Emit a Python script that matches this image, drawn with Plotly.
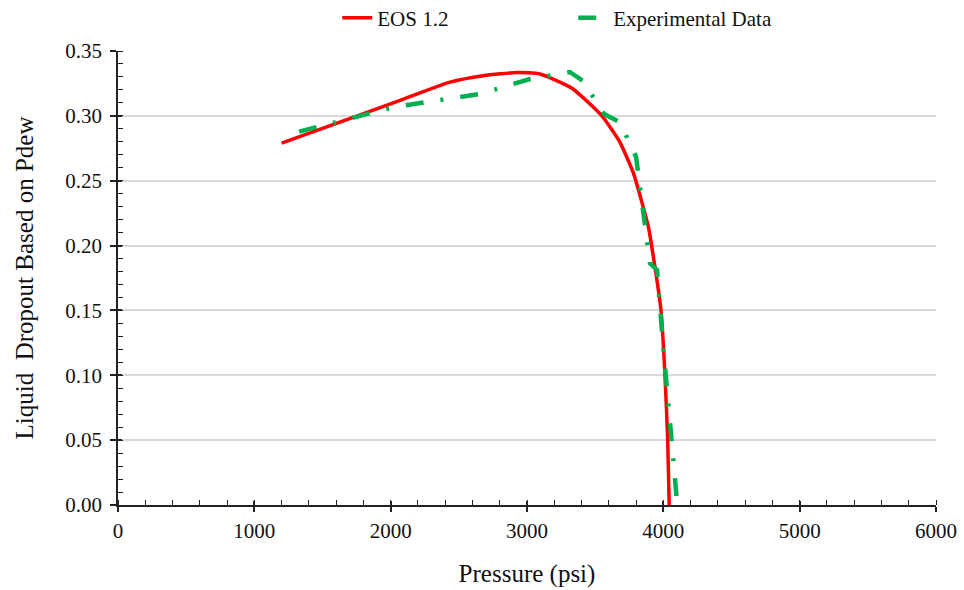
import plotly.graph_objects as go

# EOS 1.2 model curve
eos_pressure = [1200, 2070, 2435, 2680, 2930, 3095, 3330, 3545, 3680, 3780, 3890, 3914, 3983, 4012, 4032, 4043]
eos_dropout = [0.279, 0.312, 0.326, 0.331, 0.3335, 0.3323, 0.3213, 0.3005, 0.280, 0.256, 0.2146, 0.200, 0.150, 0.100, 0.050, 0.0]

# Experimental data
exp_pressure = [1328, 2032, 2655, 3022, 3315, 3411, 3565, 3682, 3800, 3902, 3954, 4001, 4078, 4102]
exp_dropout = [0.2878, 0.3069, 0.3169, 0.3284, 0.3338, 0.3269, 0.3014, 0.2951, 0.2683, 0.1862, 0.1812, 0.1195, 0.0293, 0.0]

x_range = [0, 6000]
y_range = [0, 0.35]

FONT = "Liberation Serif"

fig = go.Figure()
fig.add_trace(go.Scatter(
    x=eos_pressure, y=eos_dropout, name="EOS 1.2", mode="lines",
    line=dict(color="#FF0000", width=3.5, shape="spline", smoothing=0.5),
))
fig.add_trace(go.Scatter(
    x=exp_pressure, y=exp_dropout, name="Experimental Data", mode="lines",
    line=dict(color="#00B050", width=4.5, dash="18px,17px,3px,17px"),
))
# helper trace for the overlay axes (inner half of the major ticks)
fig.add_trace(go.Scatter(x=[], y=[], xaxis="x2", yaxis="y2", showlegend=False, hoverinfo="skip"))

axis_col = "#222222"
fig.update_layout(
    width=964, height=590,
    margin=dict(l=118, r=28, t=51, b=85, autoexpand=False),
    plot_bgcolor="white", paper_bgcolor="white",
    font=dict(family=FONT, size=21, color="#111111"),
    showlegend=True,
    legend=dict(orientation="h", xref="paper", x=0.268, xanchor="left",
                yref="container", y=1 - 18 / 590, yanchor="middle",
                font=dict(family=FONT, size=21, color="#111111"),
                entrywidth=191, bgcolor="rgba(0,0,0,0)"),
    xaxis=dict(
        range=x_range, dtick=1000, tick0=0, automargin=False,
        showline=True, linecolor=axis_col, linewidth=1.5,
        ticks="outside", ticklen=5, tickwidth=1.5, tickcolor=axis_col,
        ticklabelstandoff=1,
        minor=dict(dtick=200, ticks="inside", ticklen=5, tickwidth=1.2, tickcolor=axis_col, showgrid=False),
        showgrid=False, zeroline=False,
        title=dict(text="Pressure (psi)", font=dict(family=FONT, size=25), standoff=23),
        tickfont=dict(family=FONT, size=21),
    ),
    yaxis=dict(
        range=y_range, dtick=0.05, tick0=0, tickformat=".2f", automargin=False,
        showline=True, linecolor=axis_col, linewidth=1.5,
        ticks="outside", ticklen=6, tickwidth=1.5, tickcolor=axis_col,
        ticklabelstandoff=4,
        minor=dict(dtick=0.01, ticks="inside", ticklen=5, tickwidth=1.2, tickcolor=axis_col, showgrid=False),
        showgrid=True, gridcolor="#d9d9d9", gridwidth=1.5, zeroline=False,
        title=dict(text="Liquid  Dropout Based on Pdew", font=dict(family=FONT, size=25), standoff=25),
        tickfont=dict(family=FONT, size=21),
    ),
    xaxis2=dict(range=x_range, dtick=1000, tick0=0, overlaying="x", anchor="y", side="bottom",
                ticks="inside", ticklen=4, tickwidth=1.5, tickcolor=axis_col, automargin=False,
                showticklabels=False, showgrid=False, showline=False, zeroline=False),
    yaxis2=dict(range=y_range, dtick=0.05, tick0=0, overlaying="y", anchor="x", side="left",
                ticks="inside", ticklen=4, tickwidth=1.5, tickcolor=axis_col, automargin=False,
                showticklabels=False, showgrid=False, showline=False, zeroline=False),
)

fig.write_html("out.html", config={"displayModeBar": False},
               post_script="document.body.style.margin='0';")
